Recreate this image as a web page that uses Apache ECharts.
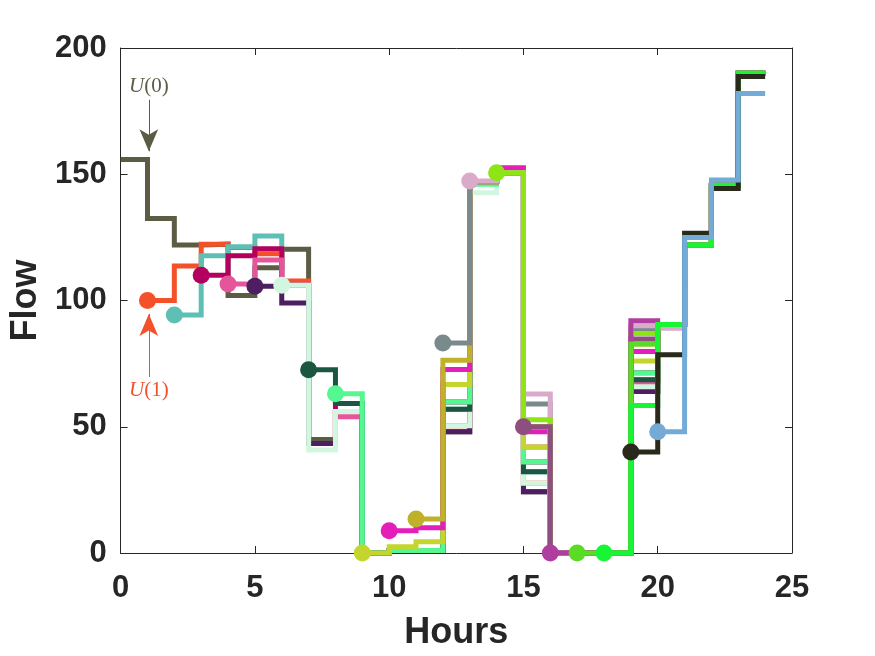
<!DOCTYPE html>
<html lang="en">
<head>
    <meta charset="UTF-8">
    <title>Flow</title>
    <script src="https://cdn.jsdelivr.net/npm/echarts@6/dist/echarts.min.js"></script>
    <style>
        body { margin: 0; background: #fff; }
        #main { width: 875px; height: 656px; }
    </style>
</head>
<body>
<div id="main"></div>

<script type="text/javascript">
    // each plan U(k) starts at hour k and holds its value until the next hour
    var U0 = [155.8, 132.5, 122, 122.3, 102, 113, 120.3, 45, 56, 0, 1, 1, 48, 147, 150.6, 24.3, 0, 0, 0, 64, 90.5, 122, 145.6, 190];
    var U1 = [100, 113.7, 122.3, 121, 118.5, 107.7, 43.4, 56, 0, 1, 1, 50.4, 147, 150.6, 27.6, 0, 0, 0, 65.8, 90.5, 122, 145.6, 190];
    var U2 = [94.3, 117.7, 121.3, 125.5, 106, 43.4, 56, 0, 1, 1, 56.9, 147, 150.6, 32.2, 0, 0, 0, 68.6, 90.5, 122, 145.6, 190];
    var U3 = [110, 117.7, 120.5, 106, 43.4, 59.2, 0, 1, 1, 59.8, 147, 150.6, 36, 0, 0, 0, 71.4, 90.5, 122, 145.6, 190];
    var U4 = [106.5, 116, 106, 43.4, 54, 0, 1, 1, 66.7, 147, 150.6, 42, 0, 0, 0, 67.4, 90.5, 122, 145.6, 190];
    var U5 = [105.6, 99, 43.4, 56, 0, 1, 1, 48, 147, 150.6, 24.3, 0, 0, 0, 64, 90.5, 122, 145.6, 190];
    var U6 = [106, 40.8, 56, 0, 1, 1, 50.4, 142.7, 150.6, 27.6, 0, 0, 0, 65.8, 90.5, 122, 145.6, 190];
    var U7 = [72.6, 59.2, 0, 1, 1, 56.9, 147, 150.6, 32.2, 0, 0, 0, 68.6, 90.5, 122, 145.6, 190];
    var U8 = [63.1, 0, 1, 1, 59.8, 146, 150.6, 36, 0, 0, 0, 71.4, 90.5, 122, 145.6, 190];
    var U9 = [0, 2.5, 4.5, 66.7, 147, 150.6, 42, 0, 0, 0, 76, 90.5, 122, 145.6, 190];
    var U10 = [8.8, 10, 72.7, 147, 152.6, 48, 0, 0, 0, 79.8, 90.5, 122, 145.6, 190];
    var U11 = [13.5, 76.3, 147, 150.6, 50, 0, 0, 0, 82.8, 90.5, 122, 145.6, 190];
    var U12 = [83.2, 147, 150.6, 59, 0, 0, 0, 88.8, 90.5, 122, 145.6, 190];
    var U13 = [147.3, 150.6, 63, 0, 0, 0, 90, 89, 122, 145.6, 190];
    var U14 = [150.6, 52.8, 0, 0, 0, 86.9, 90.5, 122, 145.6, 190];
    var U15 = [50, 0, 0, 0, 84.8, 90.5, 122, 145.6, 190];
    var U16 = [0, 0, 0, 92, 90.5, 122, 145.6, 190];
    var U17 = [0, 0, 82.8, 90.5, 122, 145.6, 190];
    var U18 = [0, 58.4, 90.5, 122, 145.6, 190];
    var U19 = [40, 78.5, 126.6, 144.4, 188.7];
    var U20 = [48, 125, 147.7, 182];

    var plans = [U0, U1, U2, U3, U4, U5, U6, U7, U8, U9, U10, U11, U12, U13, U14, U15, U16, U17, U18, U19, U20];
    var colors = ['#5c5c44', '#f4502a', '#5ec0b5', '#b3005e', '#e4559b', '#4e1e62', '#d2f7e0',
        '#1b5740', '#55f890', '#c4d62e', '#e41eb8', '#bfb22a', '#7a8a8c', '#daaacb',
        '#8ee514', '#8e4e80', '#b03ea0', '#5adc24', '#18f534', '#2a2a1c', '#74aad6'];

    var xTicks = [0, 25, 5];
    var yTicks = [0, 200, 50];
    // annotation arrows: [hour, from, to]
    var arrow0 = [1.05, 179.5, 159.1];
    var arrow1 = [1.05, 69.7, 94.7];

    var textColor = '#262626';
    var tickFont = {fontSize: 31, fontWeight: 'bold', fontFamily: 'Liberation Sans', color: textColor};

    function planData(k, vals) {
        var d = [];
        for (var i = 0; i < vals.length; i++) {
            var item = {value: [k + i, vals[i]]};
            if (i === 0 && k > 0) {
                item.symbol = 'circle';
                item.symbolSize = 17;
            }
            d.push(item);
        }
        // keep the last value up to hour 24
        d.push({value: [k + vals.length, vals[vals.length - 1]]});
        return d;
    }

    function arrowLine(a, col, txt) {
        return {
            silent: true,
            symbol: ['none', 'arrow'],
            symbolSize: [14, 22],
            lineStyle: {color: col, width: 1, type: 'solid'},
            label: {
                show: true,
                position: 'start',
                distance: 3,
                color: col,
                fontSize: 21,
                fontFamily: 'Liberation Serif',
                formatter: '{i|U}(' + txt + ')',
                rich: {i: {fontStyle: 'italic', fontSize: 21, fontFamily: 'Liberation Serif', color: col}}
            },
            data: [[{coord: [a[0], a[1]]}, {coord: [a[0], a[2]]}]]
        };
    }

    var series = plans.map(function (vals, k) {
        var s = {
            type: 'line',
            step: 'end',
            data: planData(k, vals),
            symbol: 'none',
            showSymbol: true,
            color: colors[k],
            lineStyle: {width: 5, color: colors[k], join: 'miter'},
            itemStyle: {color: colors[k]},
            z: 2
        };
        if (k === 0) s.markLine = arrowLine(arrow0, '#5c5c44', '0');
        if (k === 1) s.markLine = arrowLine(arrow1, '#f4502a', '1');
        return s;
    });

    function boxAxis(extra) {
        var ax = {
            type: 'value',
            axisLine: {show: true, onZero: false, lineStyle: {color: textColor, width: 1}},
            axisTick: {show: true, inside: true, length: 7, lineStyle: {color: textColor}},
            splitLine: {show: false}
        };
        return Object.assign(ax, extra);
    }

    var myChart = echarts.init(document.getElementById('main'));
    var option = {
        animation: false,
        grid: {left: 120, right: 83, top: 48, bottom: 101},
        xAxis: [
            boxAxis({
                min: xTicks[0], max: xTicks[1], interval: xTicks[2],
                name: 'Hours',
                nameLocation: 'middle',
                nameGap: 62,
                nameTextStyle: {fontSize: 36, fontWeight: 'bold', fontFamily: 'Liberation Sans', color: textColor},
                axisLabel: Object.assign({margin: 20}, tickFont)
            }),
            boxAxis({
                position: 'top',
                min: xTicks[0], max: xTicks[1], interval: xTicks[2],
                axisLabel: {show: false}
            })
        ],
        yAxis: [
            boxAxis({
                min: yTicks[0], max: yTicks[1], interval: yTicks[2],
                name: 'Flow',
                nameLocation: 'middle',
                nameGap: 72,
                nameTextStyle: {fontSize: 36, fontWeight: 'bold', fontFamily: 'Liberation Sans', color: textColor},
                axisLabel: Object.assign({margin: 14}, tickFont)
            }),
            boxAxis({
                position: 'right',
                min: yTicks[0], max: yTicks[1], interval: yTicks[2],
                axisLabel: {show: false}
            })
        ],
        series: series
    };

    myChart.setOption(option);
</script>
</body>
</html>
